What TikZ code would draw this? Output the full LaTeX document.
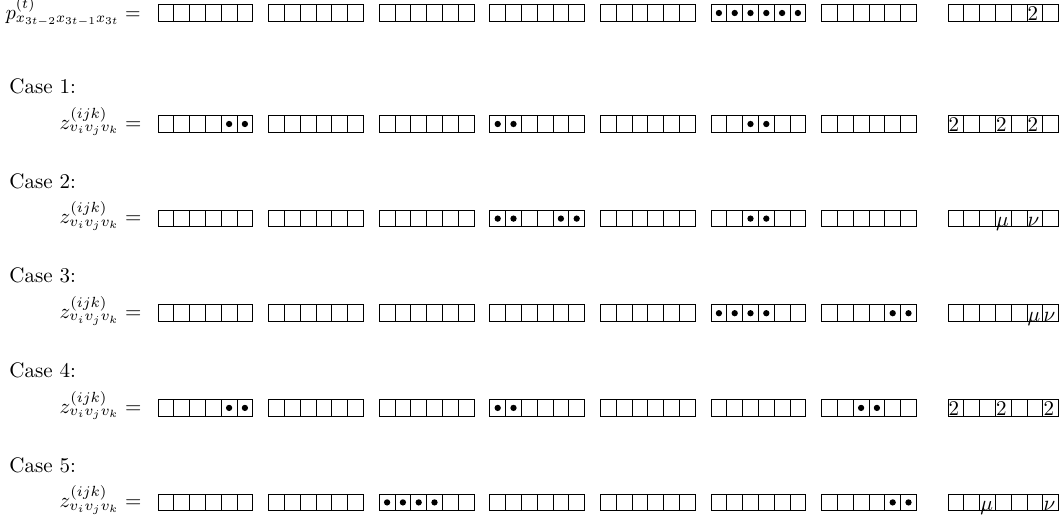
\documentclass[tikz,border=0pt]{standalone}
\newcommand\grp[3]{%
  \draw[cellline] (#1,#2-8.3) rectangle (#1+#3*15.8,#2+8.3);
  \pgfmathtruncatemacro\lastv{#3-1}%
  \foreach \i in {1,...,\lastv}{\draw[cellline] (#1+\i*15.8,#2-8.3) -- (#1+\i*15.8,#2+8.3);}%
}
\newcommand\cellrow[1]{%
  \foreach \k in {0,...,6}{\grp{158+110.6*\k}{#1}{6}}%
  \grp{948}{#1}{7}%
}
\newcommand\dts[3]{%
  \foreach \i in {#3}{\fill[dotmark] (158+110.6*#1+\i*15.8+7.9,#2) circle[radius=1.5pt];}%
}
\begin{document}
\begin{tikzpicture}[x=0.4762pt,y=-0.4762pt,
  cellline/.style={line width=0.4pt},
  dotmark/.style={fill=black},
  lab/.style={inner sep=0pt,anchor=base east},
  casetxt/.style={inner sep=0pt,anchor=base west},
  entry/.style={inner sep=0pt,anchor=base west}]
\useasboundingbox (0,0) rectangle (1064,523);
% rows of cells
\cellrow{13}
\cellrow{124}
\cellrow{218.6}
\cellrow{313.2}
\cellrow{407.9}
\cellrow{502.4}
% labels
\node[lab,xscale=0.95] (p0) at (141,13+6.6) {$p^{(t)}_{x_{3t-2}x_{3t-1}x_{3t}} =$};
\node[casetxt] (c1) at (9,124-30.4) {Case 1:};
\node[lab] (z1) at (142,124+5.3) {$z^{(ijk)}_{v_iv_jv_k} =$};
\node[casetxt] (c2) at (9,218.6-30.4) {Case 2:};
\node[lab] (z2) at (142,218.6+5.3) {$z^{(ijk)}_{v_iv_jv_k} =$};
\node[casetxt] (c3) at (9,313.2-30.4) {Case 3:};
\node[lab] (z3) at (142,313.2+5.3) {$z^{(ijk)}_{v_iv_jv_k} =$};
\node[casetxt] (c4) at (9,407.9-30.4) {Case 4:};
\node[lab] (z4) at (142,407.9+5.3) {$z^{(ijk)}_{v_iv_jv_k} =$};
\node[casetxt] (c5) at (9,502.4-30.4) {Case 5:};
\node[lab] (z5) at (142,502.4+5.3) {$z^{(ijk)}_{v_iv_jv_k} =$};
% dots
\dts{5}{13}{0,1,2,3,4,5}
\dts{0}{124}{4,5}
\dts{3}{124}{0,1}
\dts{5}{124}{2,3}
\dts{3}{218.6}{0,1,4,5}
\dts{5}{218.6}{2,3}
\dts{5}{313.2}{0,1,2,3}
\dts{6}{313.2}{4,5}
\dts{0}{407.9}{4,5}
\dts{3}{407.9}{0,1}
\dts{6}{407.9}{2,3}
\dts{2}{502.4}{0,1,2,3}
\dts{6}{502.4}{4,5}
% entries in the last groups
\node[entry] (e01) at (948+5*15.8+0.3,13+7.6) {2};
\node[entry] (e11) at (948+0*15.8+0.3,124+7.6) {2};
\node[entry] (e12) at (948+3*15.8+0.3,124+7.6) {2};
\node[entry] (e13) at (948+5*15.8+0.3,124+7.6) {2};
\node[entry] (e21) at (948+3*15.8+0.3,218.6+7.8) {$\mu$};
\node[entry] (e22) at (948+5*15.8+0.3,218.6+7.8) {$\nu$};
\node[entry] (e31) at (948+5*15.8+0.3,313.2+7.8) {$\mu$};
\node[entry] (e32) at (948+6*15.8+0.3,313.2+7.8) {$\nu$};
\node[entry] (e41) at (948+0*15.8+0.3,407.9+7.6) {2};
\node[entry] (e42) at (948+3*15.8+0.3,407.9+7.6) {2};
\node[entry] (e43) at (948+6*15.8+0.3,407.9+7.6) {2};
\node[entry] (e51) at (948+2*15.8+0.3,502.4+7.8) {$\mu$};
\node[entry] (e52) at (948+6*15.8+0.3,502.4+7.8) {$\nu$};
\end{tikzpicture}
\end{document}
